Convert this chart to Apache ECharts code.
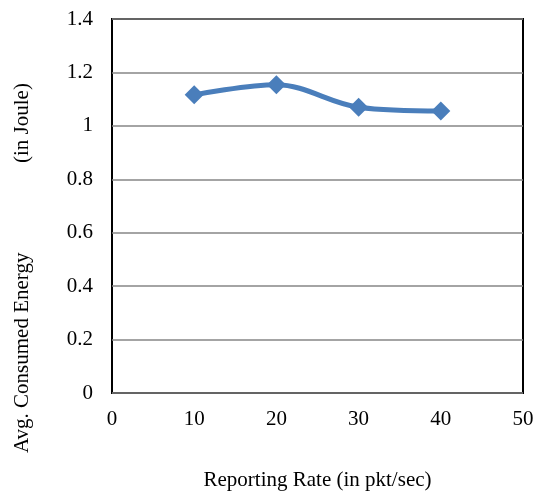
<!DOCTYPE html>
<html><head><meta charset="utf-8">
<script src="https://cdn.jsdelivr.net/npm/echarts@6/dist/echarts.min.js"></script>
<style>html,body{margin:0;padding:0;background:#fff}#c{width:536px;height:492px}</style>
</head><body><div id="c"></div>
<script>
const xValues = [10, 20, 30, 40];
const energy = [1.116, 1.154, 1.070, 1.056];
const xTitle = 'Reporting Rate (in pkt/sec)';
const yTitleMain = 'Avg. Consumed Energy';
const yTitleUnit = '(in Joule)';
const font = '"Liberation Serif", "Times New Roman", serif';
const fs = 21;
const chart = echarts.init(document.getElementById('c'), null, {renderer: 'canvas'});
chart.setOption({
  animation: false,
  grid: {left: 112, right: 13, top: 19, bottom: 99, show: true, borderColor: '#000', borderWidth: 2, backgroundColor: 'transparent', outerBoundsMode: 'none', containLabel: false},
  xAxis: {
    type: 'value', min: 0, max: 50, interval: 10,
    axisLine: {show: false}, axisTick: {show: false}, splitLine: {show: false},
    axisLabel: {color: '#000', fontFamily: font, fontSize: fs, margin: 16},
    name: xTitle, nameLocation: 'middle', nameGap: 77,
    nameTextStyle: {color: '#000', fontFamily: font, fontSize: fs}
  },
  yAxis: {
    type: 'value', min: 0, max: 1.4, interval: 0.2,
    axisLine: {show: false}, axisTick: {show: false},
    splitLine: {show: true, lineStyle: {color: '#868686', width: 1.5}},
    axisLabel: {color: '#000', fontFamily: font, fontSize: fs, margin: 19,
      formatter: v => String(Math.round(v * 10) / 10)}
  },
  graphic: [
    {type: 'text', x: 12, y: 453, rotation: Math.PI / 2, style: {text: yTitleMain, fill: '#000', font: fs + 'px ' + font, textAlign: 'left', textVerticalAlign: 'top'}},
    {type: 'text', x: 12, y: 163, rotation: Math.PI / 2, style: {text: yTitleUnit, fill: '#000', font: fs + 'px ' + font, textAlign: 'left', textVerticalAlign: 'top'}}
  ],
  series: [{
    type: 'line', smooth: 0.35,
    data: xValues.map((x, i) => [x, energy[i]]),
    symbol: 'diamond', symbolSize: 19,
    lineStyle: {color: '#4a7ebb', width: 5},
    itemStyle: {color: '#4a7ebb'}
  }]
});
</script></body></html>
